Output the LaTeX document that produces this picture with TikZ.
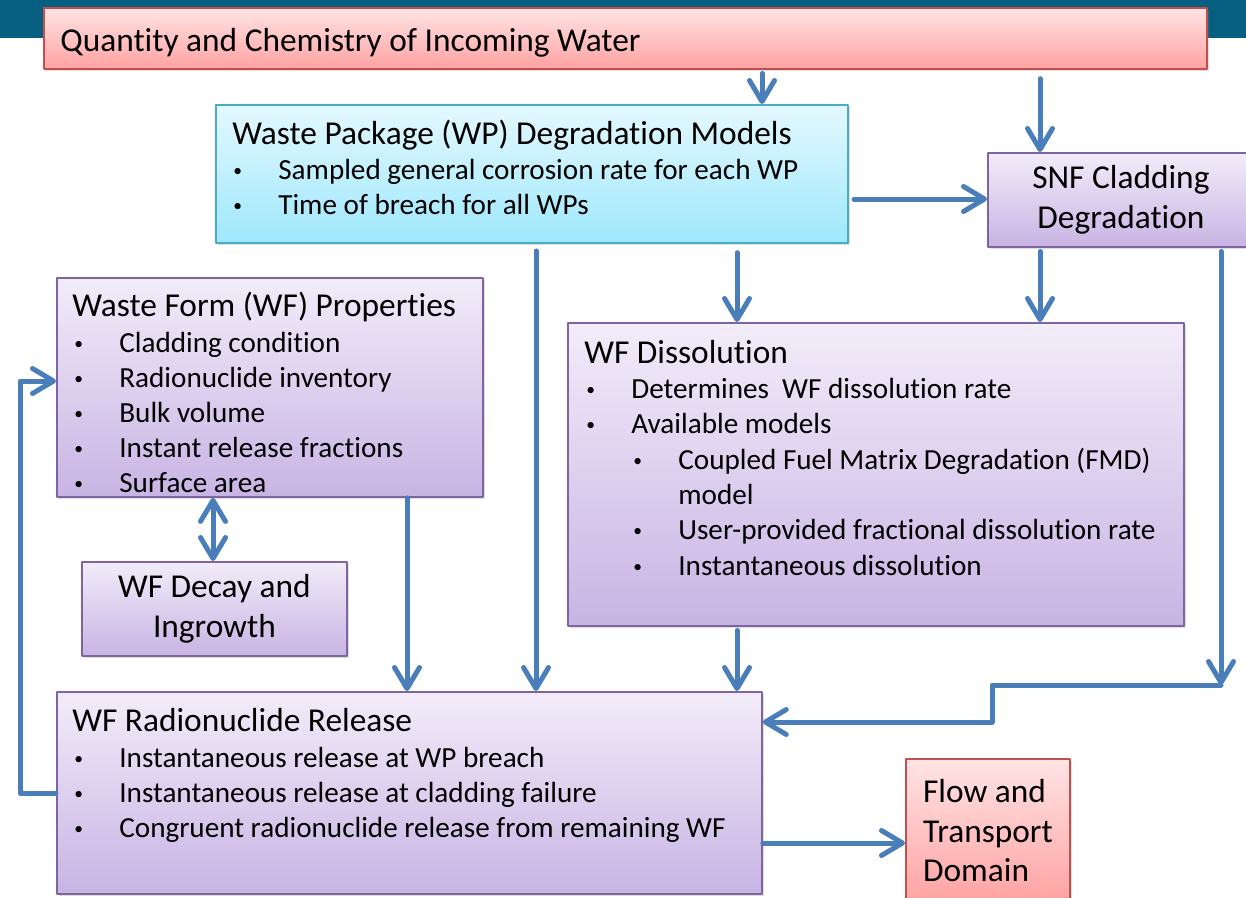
\documentclass[tikz,border=0pt]{standalone}
\usepackage{fontspec}
\setmainfont{Carlito}[Ligatures=NoCommon]
\usepackage{xcolor}
\usepackage{tikz}
\usetikzlibrary{arrows.meta,shadows}

\definecolor{barteal}{RGB}{6,95,128}
\definecolor{arrowblue}{RGB}{74,126,187}
\definecolor{redline}{RGB}{192,80,77}
\definecolor{redtop}{RGB}{255,228,228}
\definecolor{redbot}{RGB}{255,162,162}
\definecolor{cyanline}{RGB}{75,172,198}
\definecolor{cyantop}{RGB}{228,248,254}
\definecolor{cyanbot}{RGB}{158,232,252}
\definecolor{purpline}{RGB}{128,100,162}
\definecolor{purptop}{RGB}{242,236,249}
\definecolor{purpbot}{RGB}{200,180,228}

%% bullet with a fixed hang, as in the slide
\newcommand{\wfbullet}[1]{\makebox[0.9cm][l]{\raisebox{1.6pt}{\fontsize{10}{10}\selectfont\textbullet}}#1}

\begin{document}
\begin{tikzpicture}[
      x=0.02cm, y=-0.02cm,
      line cap=round,
      line join=round,
      >={Straight Barb[length=0.42cm, width=0.5cm, round]},
      box/.style={anchor=north west, line width=1.1pt, inner sep=0pt,
        align=center, font=\fontsize{19}{22.5}\selectfont,
        drop shadow={shadow xshift=0.04cm, shadow yshift=-0.05cm, opacity=0.25}},
      redbox/.style={box, draw=redline, top color=redtop, bottom color=redbot},
      cyanbox/.style={box, draw=cyanline, top color=cyantop, bottom color=cyanbot},
      purpbox/.style={box, draw=purpline, top color=purptop, bottom color=purpbot},
      ttl/.style={anchor=base west, inner sep=0pt, font=\fontsize{19}{22.5}\selectfont},
      itm/.style={anchor=base west, inner sep=0pt, font=\fontsize{16.6}{20}\selectfont},
      arr/.style={draw=arrowblue, line width=0.1cm, ->},
    ]
    \clip (0,0) rectangle (1246,897);
    %% Header band of the slide.
    \fill[barteal] (0,0) rectangle (1246,38);

    %% Boxes.
    \node[redbox, minimum width=23.26cm, minimum height=1.22cm] (water) at (43,7) {};
    \node[cyanbox, minimum width=12.64cm, minimum height=2.76cm] (wp) at (215,104) {};
    \node[purpbox, minimum width=5.32cm, minimum height=1.88cm] (snf) at (987,152)
      {SNF Cladding\\Degradation};
    \node[purpbox, minimum width=8.52cm, minimum height=4.38cm] (props) at (56,277) {};
    \node[purpbox, minimum width=12.32cm, minimum height=6.06cm] (diss) at (567,322) {};
    \node[purpbox, minimum width=5.30cm, minimum height=1.88cm] (decay) at (81,561)
      {WF Decay and\\Ingrowth};
    \node[purpbox, minimum width=14.10cm, minimum height=4.04cm] (release) at (56,691) {};
    \node[redbox, align=left, minimum width=3.28cm, minimum height=2.88cm] (flow) at (905,758)
      {Flow and\\Transport\\Domain};

    %% Texts of the boxes.
    \node[ttl] (waterttl) at (60,51) {Quantity and Chemistry of Incoming Water};

    \node[ttl] (wpttl) at (232,144) {Waste Package (WP) Degradation Models};
    \foreach \t [count=\i] in {Sampled general corrosion rate for each WP,
        Time of breach for all WPs}
      \node[itm] (wpitem\i) at (233,{144+35*\i}) {\wfbullet{\t}};

    \node[ttl] (propsttl) at (72,316) {Waste Form (WF) Properties};
    \foreach \t [count=\i] in {Cladding condition, Radionuclide inventory,
        Bulk volume, Instant release fractions, Surface area}
      \node[itm] (propsitem\i) at (74,{317+35*\i}) {\wfbullet{\t}};

    \node[ttl] (dissttl) at (584,363) {WF Dissolution};
    \node[itm] (dissitem1) at (586,398) {\wfbullet{Determines \ WF dissolution rate}};
    \node[itm] (dissitem2) at (586,433) {\wfbullet{Available models}};
    \node[itm] (dissitem3) at (633,469) {\wfbullet{Coupled Fuel Matrix Degradation (FMD)}};
    \node[itm] (dissitem4) at (678,504) {model};
    \node[itm] (dissitem5) at (633,539) {\wfbullet{User-provided fractional dissolution rate}};
    \node[itm] (dissitem6) at (633,575) {\wfbullet{Instantaneous dissolution}};

    \node[ttl] (relttl) at (72,731) {WF Radionuclide Release};
    \foreach \t [count=\i] in {Instantaneous release at WP breach,
        Instantaneous release at cladding failure,
        Congruent radionuclide release from remaining WF}
      \node[itm] (relitem\i) at (74,{732+35*\i}) {\wfbullet{\t}};

    %% Connectors.
    \draw[arr, shorten <=2pt] (water.south -| 762,0) -- (wp.north -| 762,0);
    \draw[arr, shorten <=5pt] (water.south -| 1040,0) -- (snf.north -| 1040,0);
    \draw[arr, shorten <=3pt] (wp.east |- 0,199) -- (snf.west |- 0,199);
    \draw[arr, shorten <=4pt] (wp.south -| 536,0) -- (release.north -| 536,0);
    \draw[arr, shorten <=5pt] (wp.south -| 737,0) -- (diss.north -| 737,0);
    \draw[arr, shorten <=2pt] (snf.south -| 1040,0) -- (diss.north -| 1040,0);
    \coordinate (bend) at (1221,685);
    \draw[arr, shorten <=2pt] (snf.south -| 1221,0) -- (bend);
    \draw[arr] (bend) -- ++(-229,0) |- (release.east |- 0,722);
    \draw[arr] (props.south -| 407,0) -- (release.north -| 407,0);
    \draw[arr, <->] (props.south -| 213,0) -- (decay.north -| 213,0);
    \draw[arr, shorten <=2pt] (diss.south -| 737,0) -- (release.north -| 737,0);
    \draw[arr] (release.east |- 0,843) -- (flow.west |- 0,843);
    \draw[arr] (release.west |- 0,793) -- ++(-36,0) |- (props.west |- 0,381);
  \end{tikzpicture}
\end{document}
